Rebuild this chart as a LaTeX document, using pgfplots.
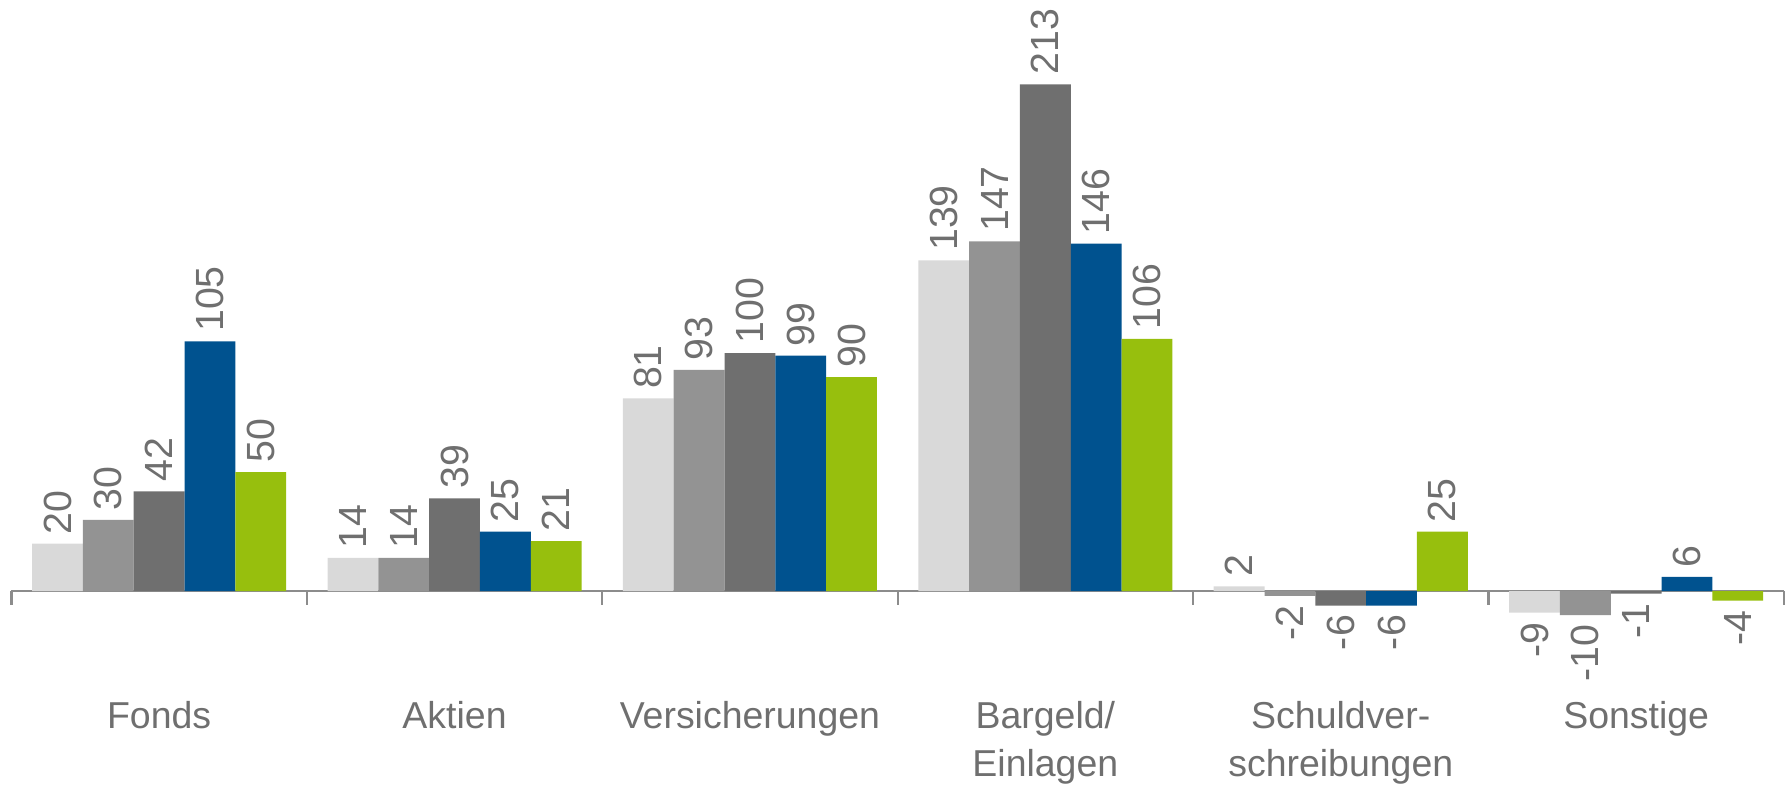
\documentclass[border=0pt]{standalone}
\usepackage{pgfplots}
\pgfplotsset{compat=1.18}
\usepackage{pgfplotstable}
\usepackage{graphicx}
\usepackage{fontspec}
\setmainfont{Liberation Sans}

\definecolor{cA}{HTML}{D9D9D9}
\definecolor{cB}{HTML}{939393}
\definecolor{cC}{HTML}{6F6F6F}
\definecolor{cD}{HTML}{00528F}
\definecolor{cE}{HTML}{97BF0D}
\definecolor{txt}{HTML}{6F6F6F}
\definecolor{axc}{HTML}{8C8C8C}

% x = category index, y = value
\pgfplotstableread{
x y
0 20
1 14
2 81
3 139
4 2
5 -9
}\sA
\pgfplotstableread{
x y
0 30
1 14
2 93
3 147
4 -2
5 -10
}\sB
\pgfplotstableread{
x y
0 42
1 39
2 100
3 213
4 -6
5 -1
}\sC
\pgfplotstableread{
x y
0 105
1 25
2 99
3 146
4 -6
5 6
}\sD
\pgfplotstableread{
x y
0 50
1 21
2 90
3 106
4 25
5 -4
}\sE

\begin{document}
\begin{tikzpicture}
\begin{axis}[
    name=ax,
    width=776pt, height=260.5pt, scale only axis,
    xmin=-0.5, xmax=5.5, ymin=-20, ymax=230,
    axis x line=middle, axis y line=none,
    x axis line style={-, axc, line width=1pt},
    xtick={0,...,5},
    xticklabels={Fonds,Aktien,Versicherungen,{Bargeld/\\Einlagen},{Schuldver-\\schreibungen},Sonstige},
    xticklabel style={align=center, font=\fontsize{16.4}{21}\selectfont, text=txt, yshift=-44.5pt},
    major tick length=0pt,
    minor xtick={-0.5,0.5,1.5,2.5,3.5,4.5,5.5},
    minor tick length=6pt,
    xtick align=outside,
    minor x tick style={axc, line width=1pt},
    ytick=\empty,
    ybar=0pt, bar width=0.172,
    /pgf/number format/assume math mode=true,
    nodes near coords={\rotatebox{90}{\pgfmathprintnumber{\pgfplotspointmeta}}},
    every node near coord/.append style={
        font=\fontsize{17.2}{20}\selectfont, text=txt, inner ysep=4pt, inner xsep=0pt},
    clip=false,
]
\addplot[fill=cA, draw=none, bar shift=-0.344] table[x=x, y=y] {\sA};
\addplot[fill=cB, draw=none, bar shift=-0.172] table[x=x, y=y] {\sB};
\addplot[fill=cC, draw=none, bar shift=0] table[x=x, y=y] {\sC};
\addplot[fill=cD, draw=none, bar shift=0.172] table[x=x, y=y] {\sD};
\addplot[fill=cE, draw=none, bar shift=0.344] table[x=x, y=y] {\sE};
\end{axis}
\path (ax.south west) ++(-5pt,0);
\end{tikzpicture}
\end{document}
